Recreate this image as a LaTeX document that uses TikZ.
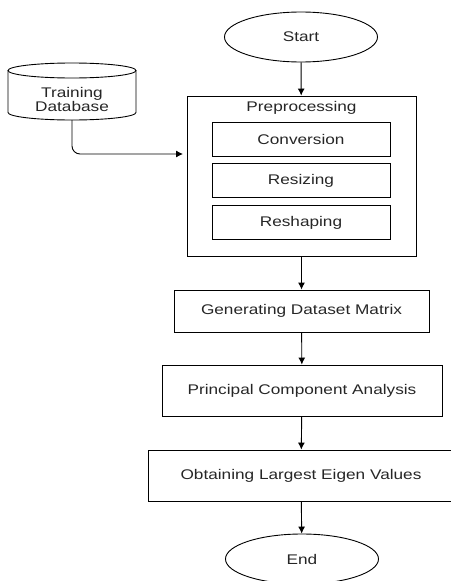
\documentclass[tikz,border=0pt]{standalone}
\usepackage{fontspec}
\setmainfont{Liberation Sans}[FakeStretch=1.23]
\usepackage{tikz}
\usetikzlibrary{shapes.geometric,arrows.meta}

\begin{document}
\begin{tikzpicture}[x=1pt,y=-1pt,>={Latex[length=7pt,width=7pt]},
    every node/.style={font=\fontsize{14}{16}\selectfont, text=black!85},
    block/.style={draw, line width=0.9pt, rectangle, inner sep=0pt},
    terminal/.style={draw, line width=0.9pt, ellipse, inner sep=0pt, minimum width=153pt, minimum height=50pt},
    flow/.style={->, line width=0.9pt}]
    \useasboundingbox (0,0) rectangle (450,581);
    % start and end
    \node[terminal] (start) at (301,37) {Start};
    \node[terminal] (end) at (302,559) {End};
    % training data store
    \draw[line width=0.9pt] (72,70.5) ellipse [x radius=64, y radius=7.5];
    \draw[line width=0.9pt] (8,70.5) -- (8,112.5) arc [start angle=180, end angle=0, x radius=64, y radius=7.5] -- (136,70.5);
    \node[align=center] (db) at (72,99) {Training\\[-2pt]Database};
    \coordinate (dbout) at (72,120);
    % preprocessing group with its three steps
    \node[block, minimum width=229pt, minimum height=160pt] (prep) at (301.5,176) {};
    \node (preptitle) at (301.5,108) {Preprocessing};
    \node[block, minimum width=178pt, minimum height=34pt] (conv) at (301,139) {Conversion};
    \node[block, minimum width=178pt, minimum height=34pt] (resz) at (301,180.5) {Resizing};
    \node[block, minimum width=178pt, minimum height=34pt] (resh) at (301,222.5) {Reshaping};
    % main steps
    \node[block, minimum width=255pt, minimum height=42pt] (gen) at (301.5,311) {Generating Dataset Matrix};
    \node[block, minimum width=280pt, minimum height=51pt] (pca) at (302,390.5) {Principal Component Analysis};
    \node[block, minimum width=306pt, minimum height=51pt] (olev) at (301,475.5) {Obtaining Largest Eigen Values};
    % arrows between the steps
    \path[flow] (start) edge node {} (prep);
    \path[flow] (prep) edge node {} (gen);
    \path[flow] (gen) edge node {} (pca);
    \path[flow] (pca) edge node {} (olev);
    \path[flow] (olev) edge node {} (end);
    % database into preprocessing
    \coordinate (dbin) at (187,154);
    \draw[flow, rounded corners=8pt, shorten >=4pt] (dbout) |- (dbin);
\end{tikzpicture}
\end{document}
